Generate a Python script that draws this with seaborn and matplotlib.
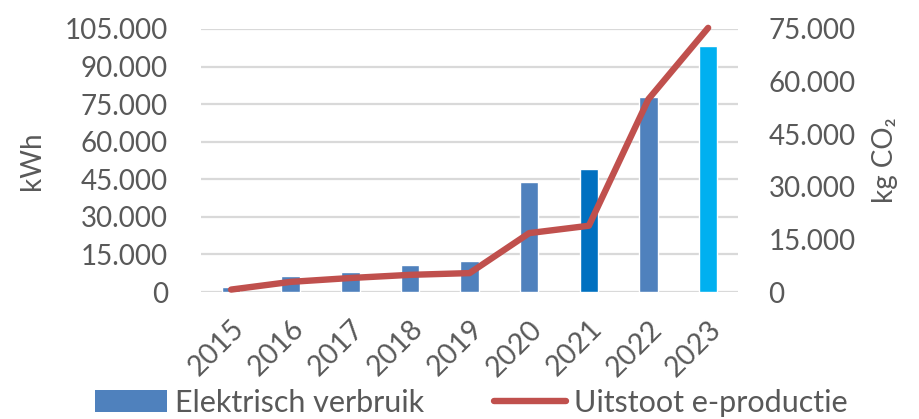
import numpy as np
import matplotlib
matplotlib.use('Agg')
import matplotlib.pyplot as plt
import seaborn as sns
from matplotlib.ticker import FuncFormatter, MultipleLocator
from matplotlib.patches import Patch
from matplotlib.lines import Line2D

years = ['2015', '2016', '2017', '2018', '2019', '2020', '2021', '2022', '2023']
kwh = [2000, 6300, 7900, 10800, 12300, 43800, 49000, 77800, 98300]
co2 = [700, 2900, 4000, 4900, 5400, 16800, 18900, 55000, 75300]
bar_colors = ['#4F81BD'] * 6 + ['#0070C0', '#4F81BD', '#00B0F0']

TXT = '#595959'
GRID = '#D9D9D9'
RED = '#C0504D'

sns.set_theme(style='white')
plt.rcParams['font.family'] = ['Lato', 'DejaVu Sans']

def dots(v, pos):
    return f'{int(v):,}'.replace(',', '.')

fig = plt.figure(figsize=(9.19, 4.19), dpi=100)
ax = fig.add_axes([0.219, 0.303, 0.584, 0.628])

sns.barplot(x=years, y=kwh, hue=years, palette=bar_colors, legend=False,
            width=0.31, saturation=1, ax=ax, zorder=3)
ax.set_ylim(0, 105000)
ax.yaxis.set_major_locator(MultipleLocator(15000))
ax.yaxis.set_major_formatter(FuncFormatter(dots))
ax.grid(axis='y', color=GRID, linewidth=1.6, zorder=0)
ax.set_axisbelow(True)
ax.set_xlim(-0.5, len(years) - 0.5)
for s in ax.spines.values():
    s.set_visible(False)
ax.tick_params(axis='y', length=0, pad=24, labelsize=20, labelcolor=TXT)
ax.tick_params(axis='x', length=0, pad=17, labelsize=20.5, labelcolor=TXT)
plt.setp(ax.get_xticklabels(), rotation=45, ha='right', rotation_mode='anchor')
ax.set_xlabel('')
ax.set_ylabel('kWh', fontsize=20, color=TXT, labelpad=14)

ax2 = ax.twinx()
sns.lineplot(x=np.arange(len(years)), y=co2, color=RED, linewidth=4.6,
             solid_capstyle='round', solid_joinstyle='round', ax=ax2, zorder=4)
for ln in ax2.get_lines():
    ln.set_clip_on(False)
ax2.set_ylim(0, 75000)
ax2.yaxis.set_major_locator(MultipleLocator(15000))
ax2.yaxis.set_major_formatter(FuncFormatter(dots))
ax2.grid(False)
for s in ax2.spines.values():
    s.set_visible(False)
ax2.tick_params(axis='y', length=0, pad=22, labelsize=20, labelcolor=TXT)
ax2.set_ylabel('kg CO₂', fontsize=20, color=TXT, labelpad=12)

handles = [Patch(facecolor='#4F81BD', edgecolor='none'),
           Line2D([0], [0], color=RED, linewidth=4.6, solid_capstyle='round')]
fig.legend(handles, ['Elektrisch verbruik', 'Uitstoot e-productie'],
           loc='lower center', bbox_to_anchor=(0.513, -0.06), ncol=2, frameon=False,
           fontsize=22, labelcolor=TXT, handlelength=2.35, handleheight=0.7,
           columnspacing=2.3, handletextpad=0.25)

fig.savefig('out.png', dpi=100)
